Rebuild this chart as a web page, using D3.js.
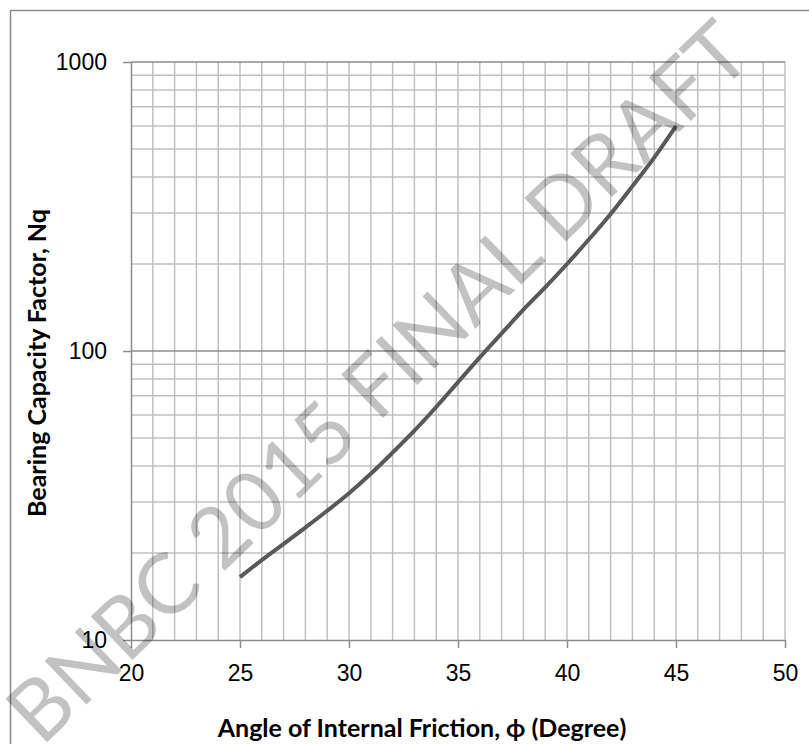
<!DOCTYPE html>
<html lang="en">
<head>
  <meta charset="UTF-8">
  <title>Bearing Capacity Factor Nq</title>
  <script src="https://d3js.org/d3.v7.min.js"></script>
  <style>
    body { margin: 0; background: #fff; }
    svg { display: block; font-family: Lato, "Open Sans", sans-serif; }
    .axis text { font-size: 23px; fill: #000; }
    .axis path, .axis line { stroke: #8c8c8c; stroke-width: 1.5; }
    .title { font-size: 25px; font-weight: bold; }
  </style>
</head>
<body>
  <div id="chart"></div>
  <script>
    // angle of internal friction (deg) and Nq
    const angles = [25, 26, 27, 28, 29, 30, 31, 32, 33, 34, 35,
                    36, 37, 38, 39, 40, 41, 42, 43, 44, 45];
    const nq = [16.5, 18.9, 21.5, 24.5, 28, 32.2, 37.6, 44.5, 53, 64, 78,
                95, 115, 139, 166, 200, 243, 298, 372, 467, 600];
    const xTicks = [20, 25, 30, 35, 40, 45, 50];
    const yTicks = [10, 100, 1000];

    const W = 809, H = 744;
    const margin = {top: 62, right: 24, bottom: 104, left: 131};

    const svg = d3.select('#chart').append('svg')
      .attr('width', W)
      .attr('height', H);

    // chart frame
    svg.append('rect')
      .attr('x', 10.5).attr('y', 10.5)
      .attr('width', W + 20).attr('height', H + 20)
      .attr('fill', 'none')
      .attr('stroke', '#8c8c8c')
      .attr('stroke-width', 1.5);

    const x = d3.scaleLinear().domain([20, 50]).range([margin.left, W - margin.right]);
    const y = d3.scaleLog().domain([10, 1000]).range([H - margin.bottom, margin.top]);

    const grid = svg.append('g');
    // vertical gridlines every degree
    grid.selectAll('line.v')
      .data(d3.range(21, 51))
      .enter().append('line')
      .attr('class', 'v')
      .attr('x1', d => x(d)).attr('x2', d => x(d))
      .attr('y1', y(10)).attr('y2', y(1000))
      .attr('stroke', '#c0c0c0').attr('stroke-width', 1.5);

    // minor horizontal gridlines 2..9 in each decade
    const minors = [];
    [10, 100].forEach(dec => { for (let k = 2; k <= 9; k++) minors.push(dec * k); });
    grid.selectAll('line.h')
      .data(minors)
      .enter().append('line')
      .attr('class', 'h')
      .attr('x1', x(20)).attr('x2', x(50))
      .attr('y1', d => y(d)).attr('y2', d => y(d))
      .attr('stroke', '#c0c0c0').attr('stroke-width', 1.5);

    // major horizontal gridlines
    grid.selectAll('line.major')
      .data([100, 1000])
      .enter().append('line')
      .attr('class', 'major')
      .attr('x1', x(20)).attr('x2', x(50))
      .attr('y1', d => y(d)).attr('y2', d => y(d))
      .attr('stroke', '#8c8c8c').attr('stroke-width', 1.5);

    svg.append('g')
      .attr('class', 'axis')
      .attr('transform', `translate(0,${y(10)})`)
      .call(d3.axisBottom(x).tickValues(xTicks).tickSize(8).tickSizeOuter(0).tickPadding(17));

    svg.append('g')
      .attr('class', 'axis')
      .attr('transform', `translate(${x(20)},0)`)
      .call(d3.axisLeft(y).tickValues(yTicks).tickFormat(d3.format('d'))
        .tickSize(8).tickSizeOuter(0).tickPadding(16));

    // the Nq curve
    const line = d3.line()
      .x((d, i) => x(angles[i]))
      .y(d => y(d))
      .curve(d3.curveCatmullRom);

    svg.append('path')
      .datum(nq)
      .attr('d', line)
      .attr('fill', 'none')
      .attr('stroke', '#595959')
      .attr('stroke-width', 4);

    // axis titles
    svg.append('text')
      .attr('class', 'title')
      .attr('x', 422).attr('y', 737)
      .attr('text-anchor', 'middle')
      .text('Angle of Internal Friction, \u03d5 (Degree)');

    svg.append('text')
      .attr('class', 'title')
      .attr('transform', 'translate(46,363) rotate(-90)')
      .attr('text-anchor', 'middle')
      .text('Bearing Capacity Factor, Nq');

    // watermark on top
    svg.append('text')
      .attr('transform', 'translate(378,382) rotate(-44)')
      .attr('text-anchor', 'middle')
      .attr('dy', '0.35em')
      .attr('font-size', 84)
      .attr('fill', '#000')
      .attr('fill-opacity', 0.24)
      .text('BNBC 2015 FINAL DRAFT');
  </script>
</body>
</html>
